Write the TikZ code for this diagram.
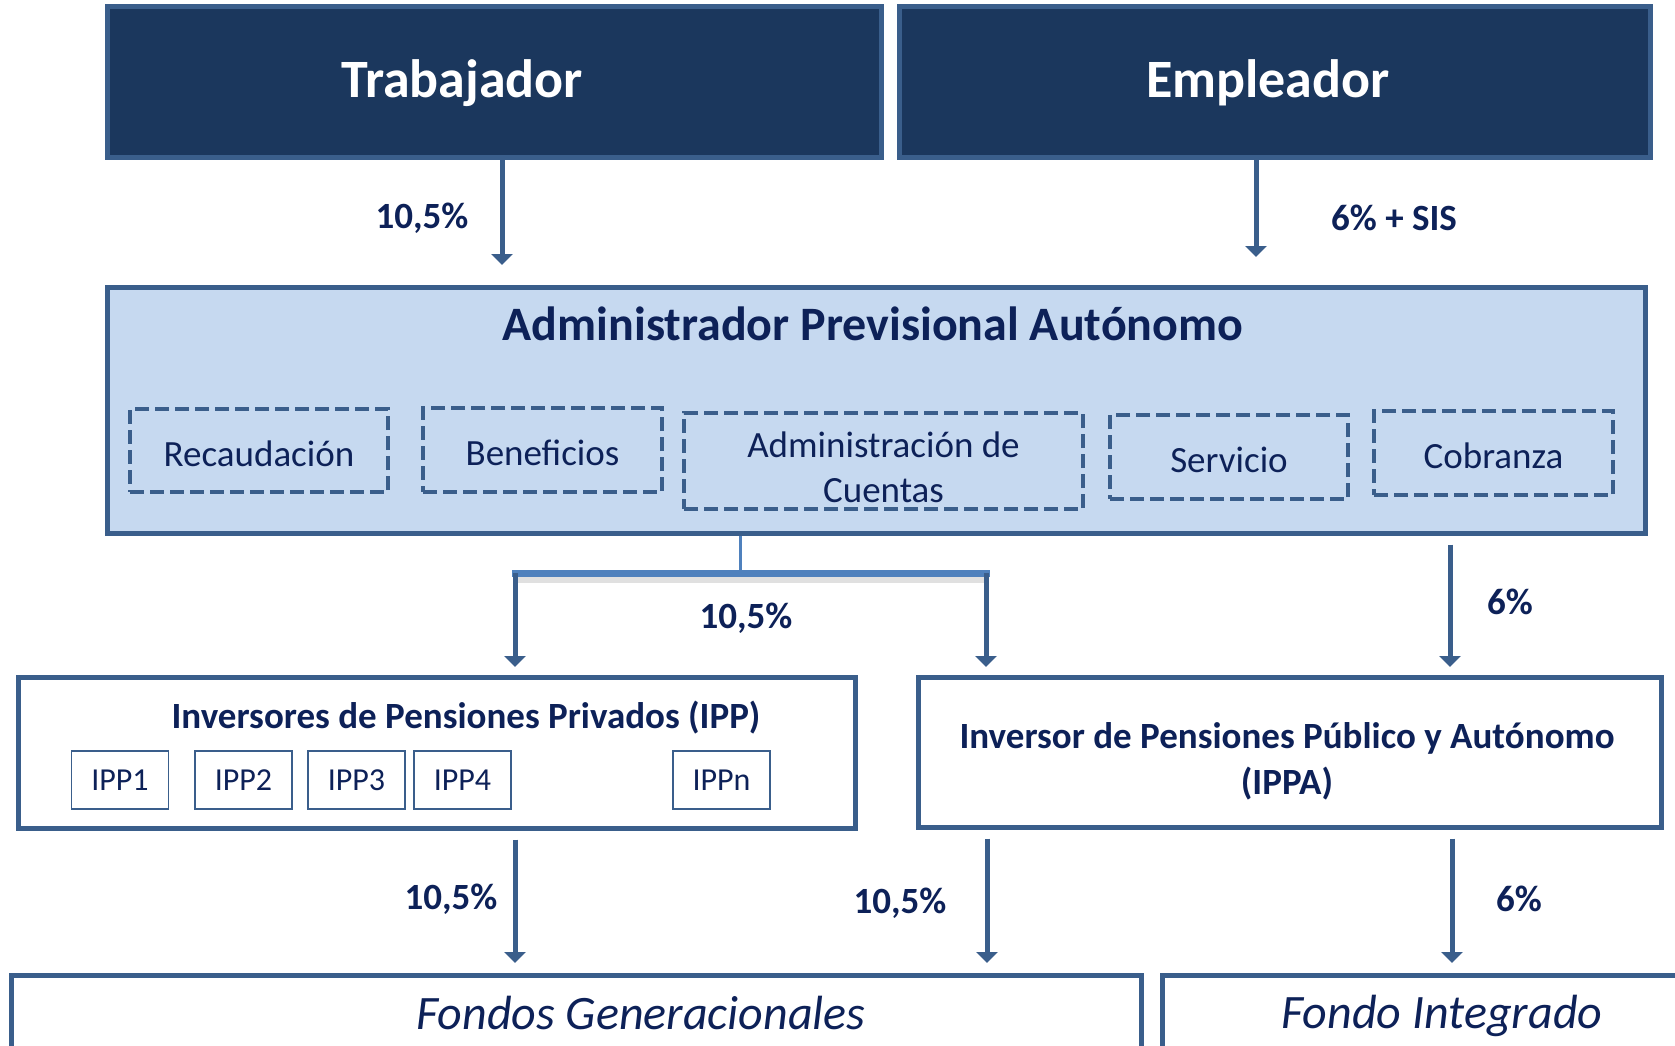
\documentclass[tikz,border=0pt]{standalone}
\usepackage{fontspec}
\setmainfont{Carlito}
\usepackage{tikz}
\usetikzlibrary{arrows.meta}

\definecolor{navyfill}{HTML}{1B375D}
\definecolor{edgeblue}{HTML}{3A5E8B}
\definecolor{paleblue}{HTML}{C6D9F0}
\definecolor{inknavy}{HTML}{0D2158}
\definecolor{barblue}{HTML}{4F81BD}
\newcommand{\setfs}[2]{\fontsize{#1}{#2}\selectfont}

\begin{document}
\begin{tikzpicture}[x=1pt,y=-1pt,
		darkbox/.style={draw=edgeblue,fill=navyfill,line width=5pt},
		whitebox/.style={draw=edgeblue,fill=white,line width=5pt},
		dashbox/.style={draw=edgeblue,line width=4pt,dash pattern=on 14pt off 6pt,
			text=inknavy,font=\setfs{37}{45},align=center},
		ippbox/.style={draw=edgeblue,fill=white,line width=1.8pt,minimum width=97,
			minimum height=58,text=inknavy,font=\setfs{32}{38}},
		pct/.style={text=inknavy,font=\setfs{37}{44}\bfseries},
		flow/.style={edgeblue,line width=5pt,-{Triangle[width=21pt,length=11pt]}}]
	\clip (0,0) rectangle (1675,1046);
	% aportantes
	\node[darkbox,minimum width=774,minimum height=150] (trab) at (494,82) {};
	\node[darkbox,minimum width=751,minimum height=150] (empl) at (1274.5,82) {};
	\node[text=white,font=\setfs{54}{64}\bfseries] (trabtxt) at (462,83) {Trabajador};
	\node[text=white,font=\setfs{54}{64}\bfseries] (empltxt) at (1268,83) {Empleador};
	\coordinate (t1) at (502,265);
	\coordinate (e1) at (1256,257);
	\draw[flow] (trab.south -| t1) -- (t1);
	\draw[flow] (empl.south -| e1) -- (e1);
	\node[pct] (p1) at (422,218) {10,5\%};
	\node[pct] (p2) at (1394,218) {6\% + SIS};
	% administrador
	\node[draw=edgeblue,fill=paleblue,line width=5pt,minimum width=1538,minimum height=246] (apa) at (876,410) {};
	\node[text=inknavy,font=\setfs{48}{56}\bfseries] (apatxt) at (873,324) {Administrador Previsional Autónomo};
	\node[dashbox,text height=31pt,text depth=0pt,minimum width=258,minimum height=83] (rec) at (259,450.5) {Recaudación};
	\node[dashbox,text height=31pt,text depth=0pt,minimum width=239,minimum height=84] (ben) at (542.5,450) {Beneficios};
	\node[dashbox,minimum width=399,minimum height=96] (adm) at (883.5,461) {\rule{0pt}{39pt}Administración de\\Cuentas};
	\node[dashbox,text height=31pt,text depth=0pt,minimum width=238,minimum height=84] (ser) at (1229,457) {Servicio};
	\node[dashbox,text height=31pt,text depth=0pt,minimum width=239,minimum height=84] (cob) at (1493.5,453) {Cobranza};
	% reparto 10,5%
	\coordinate (b0) at (740,573);
	\coordinate (bl) at (512,573);
	\coordinate (br) at (990,573);
	\draw[black!12,line width=6pt] (516,580) -- (986,580);
	\draw[barblue,line width=3pt] (apa.south -| b0) -- (b0);
	\draw[barblue,line width=7pt] (bl) -- (br);
	\coordinate (a1) at (515,667);
	\coordinate (a2) at (986,667);
	\draw[flow] (bl -| a1) -- (a1);
	\draw[flow] (br -| a2) -- (a2);
	\node[pct] (p3) at (746,618) {10,5\%};
	\coordinate (a3) at (1450,667);
	\draw[flow,shorten <=9pt] (apa.south -| a3) -- (a3);
	\node[pct] (p4) at (1510,602) {6\%};
	% inversores
	\node[whitebox,minimum width=837,minimum height=151] (ipp) at (436.5,752.5) {};
	\node[text=inknavy,font=\setfs{37}{44}\bfseries] (ipptxt) at (466,718) {Inversores de Pensiones Privados (IPP)};
	\node[ippbox] (ipp1) at (120,780) {IPP1};
	\node[ippbox] (ipp2) at (243.5,780) {IPP2};
	\node[ippbox] (ipp3) at (356.5,780) {IPP3};
	\node[ippbox] (ipp4) at (462.5,780) {IPP4};
	\node[ippbox] (ippn) at (721.5,780) {IPPn};
	\node[whitebox,minimum width=743,minimum height=150] (ippa) at (1289.5,752) {};
	\node[text=inknavy,font=\setfs{37}{46}\bfseries,align=center] (ippatxt) at (1287,761)
		{Inversor de Pensiones Público y Autónomo\\(IPPA)};
	% fondos
	\node[whitebox,minimum width=1130,minimum height=160,anchor=north west] (fg) at (9,973) {};
	\node[whitebox,minimum width=560,minimum height=160,anchor=north west] (fi) at (1160,973) {};
	\node[text=inknavy,font=\setfs{48}{56}\itshape] (fgtxt) at (641,1013) {Fondos Generacionales};
	\node[text=inknavy,font=\setfs{48}{56}\itshape] (fitxt) at (1442,1016) {Fondo Integrado};
	\coordinate (f1) at (515,963);
	\coordinate (f2) at (987,963);
	\coordinate (f3) at (1452,963);
	\draw[flow,shorten <=9pt] (ipp.south -| f1) -- (f1);
	\draw[flow,shorten <=9pt] (ippa.south -| f2) -- (f2);
	\draw[flow,shorten <=9pt] (ippa.south -| f3) -- (f3);
	\node[pct] (p5) at (451,899) {10,5\%};
	\node[pct] (p6) at (900,903) {10,5\%};
	\node[pct] (p7) at (1519,899) {6\%};
\end{tikzpicture}
\end{document}
